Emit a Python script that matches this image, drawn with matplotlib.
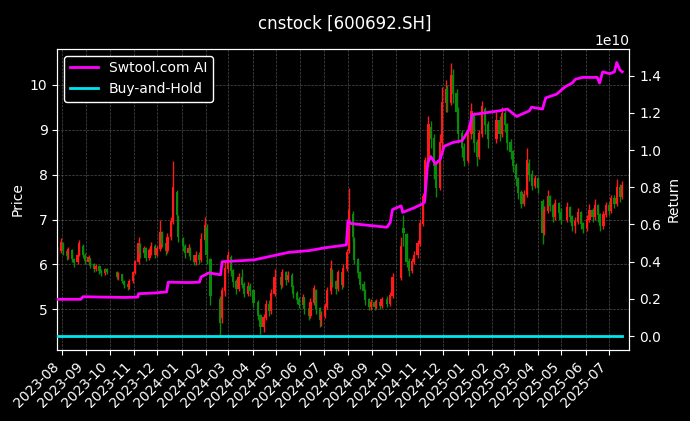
import numpy as np
import pandas as pd
import matplotlib
matplotlib.use("Agg")
import matplotlib.pyplot as plt
import matplotlib.dates as mdates

# ---------------- data ----------------
opens = [
    6.12, 6.30,                                                   # 2023-07
    6.45, 6.28, 6.20, 6.30, 6.10, 6.05, 6.22, 6.40, 6.20,         # 2023-08
    6.05, 6.12, 5.98, 5.90, 5.95, 5.85, 5.80, 5.88,               # 2023-09
    5.82, 5.72, 5.76, 5.62, 5.55, 5.50, 5.62,                     # 2023-10
    5.80, 6.05, 6.42, 6.25, 6.35, 6.15, 6.30, 6.40, 6.22,         # 2023-11
    6.35, 6.68, 6.45, 6.30, 6.60, 6.95, 7.60, 7.05,               # 2023-12
    6.55, 6.40, 6.25, 6.35, 6.18, 6.05, 6.20, 6.10, 6.55,         # 2024-01
    6.80, 6.10, 5.20, 4.80, 5.40, 5.90,                           # 2024-02
    6.15, 5.85, 5.60, 5.45, 5.70, 5.55, 5.35, 5.50,               # 2024-03
    5.40, 5.15, 4.85, 4.60, 4.80, 5.10, 4.95, 5.35,               # 2024-04
    5.70, 5.55, 5.80, 5.65, 5.75, 5.50, 5.35, 5.20,               # 2024-05
    5.10, 5.25, 5.00, 4.85, 5.15, 5.40, 5.00, 4.75,               # 2024-06
    4.85, 5.05, 5.40, 5.85, 5.60, 5.45, 5.80, 5.55, 5.90,         # 2024-07
    6.30, 7.10, 6.55, 6.10, 5.80, 5.55, 5.40, 5.20, 5.05,         # 2024-08
    5.15, 5.05, 5.15, 5.08, 5.20, 5.12, 5.30, 5.70,               # 2024-09
    6.80, 6.65, 6.05, 5.85, 6.05, 6.20, 6.45,                     # 2024-10
    6.90, 7.50, 8.30, 9.05, 8.80, 8.20, 7.70, 8.70,               # 2024-11
    9.60, 9.90, 9.60, 10.20, 9.80, 9.40, 8.90, 8.60, 8.30,        # 2024-12
    8.90, 9.35, 8.70, 8.40, 8.90, 9.45, 9.10,                     # 2025-01
    8.80, 9.20, 8.90, 9.35, 9.10, 8.70, 8.50,                     # 2025-02
    8.20, 7.90, 7.60, 7.35, 7.55, 8.25, 8.00, 7.75,               # 2025-03
    7.90, 7.40, 6.70, 7.20, 7.50, 7.30, 7.05, 7.35,               # 2025-04
    7.15, 7.00, 7.25, 7.05, 6.85, 6.95, 7.15, 6.90,               # 2025-05
    6.80, 7.00, 7.20, 7.05, 7.30, 7.10, 6.85, 7.10,               # 2025-06
    7.30, 7.20, 7.45, 7.35, 7.70, 7.50,                           # 2025-07
]
closes = [
    6.30, 6.48,
    6.30, 6.18, 6.32, 6.12, 6.02, 6.20, 6.45, 6.22, 6.08,
    6.15, 5.98, 5.90, 5.95, 5.85, 5.80, 5.88, 5.82,
    5.72, 5.78, 5.62, 5.55, 5.50, 5.62, 5.80,
    6.05, 6.45, 6.25, 6.35, 6.15, 6.30, 6.40, 6.22, 6.35,
    6.70, 6.45, 6.30, 6.60, 6.95, 7.70, 7.10, 6.60,
    6.40, 6.25, 6.35, 6.18, 6.05, 6.20, 6.10, 6.55, 6.85,
    6.20, 5.30, 4.70, 5.40, 5.90, 6.20,
    5.85, 5.60, 5.45, 5.70, 5.55, 5.35, 5.50, 5.40,
    5.15, 4.85, 4.60, 4.80, 5.10, 4.95, 5.35, 5.70,
    5.55, 5.80, 5.65, 5.75, 5.50, 5.35, 5.20, 5.10,
    5.25, 5.00, 4.85, 5.15, 5.45, 5.00, 4.75, 4.85,
    5.05, 5.40, 5.90, 5.60, 5.45, 5.80, 5.55, 5.90, 6.25,
    7.20, 6.60, 6.10, 5.80, 5.55, 5.40, 5.20, 5.05, 5.15,
    5.05, 5.15, 5.08, 5.20, 5.12, 5.30, 5.70, 6.40,
    6.70, 6.05, 5.85, 6.05, 6.20, 6.45, 6.90,
    7.50, 8.30, 9.10, 8.80, 8.20, 7.70, 8.70, 9.60,
    9.90, 9.60, 10.20, 9.80, 9.40, 8.90, 8.60, 8.30, 8.90,
    9.40, 8.70, 8.40, 8.90, 9.50, 9.10, 8.80,
    9.20, 8.90, 9.35, 9.10, 8.70, 8.50, 8.20,
    7.90, 7.60, 7.35, 7.55, 8.30, 8.00, 7.75, 7.90,
    7.70, 6.70, 7.20, 7.50, 7.30, 7.05, 7.35, 7.15,
    7.00, 7.25, 7.05, 6.85, 6.95, 7.15, 6.90, 6.80,
    7.00, 7.20, 7.05, 7.30, 7.10, 6.85, 7.10, 7.30,
    7.20, 7.45, 7.35, 7.70, 7.50, 7.75,
]
highs = [
    6.38, 6.58,
    6.50, 6.35, 6.38, 6.34, 6.15, 6.25, 6.55, 6.45, 6.25,
    6.20, 6.15, 6.02, 6.00, 5.98, 5.90, 5.92, 5.92,
    5.85, 5.82, 5.78, 5.66, 5.60, 5.68, 5.86,
    6.10, 6.60, 6.48, 6.42, 6.38, 6.36, 6.50, 6.45, 6.42,
    7.00, 6.75, 6.50, 6.70, 7.05, 8.30, 7.65, 7.10,
    6.60, 6.45, 6.45, 6.38, 6.22, 6.30, 6.28, 6.70, 7.05,
    6.90, 6.15, 5.30, 5.50, 6.05, 6.30,
    6.20, 5.90, 5.68, 5.80, 5.90, 5.60, 5.60, 5.58,
    5.45, 5.20, 4.90, 4.90, 5.20, 5.20, 5.45, 5.90,
    5.75, 5.90, 5.85, 5.85, 5.80, 5.55, 5.40, 5.28,
    5.35, 5.28, 5.05, 5.25, 5.55, 5.45, 5.05, 4.95,
    5.15, 5.50, 6.10, 5.90, 5.65, 5.88, 5.85, 6.00, 6.35,
    7.70, 7.20, 6.60, 6.15, 5.85, 5.62, 5.45, 5.25, 5.22,
    5.20, 5.22, 5.20, 5.28, 5.30, 5.38, 5.80, 6.60,
    7.10, 6.70, 6.15, 6.15, 6.30, 6.55, 7.00,
    7.60, 8.40, 9.30, 9.20, 8.90, 8.30, 8.90, 9.95,
    10.10, 10.00, 10.50, 10.35, 9.90, 9.50, 9.00, 8.70, 9.10,
    9.60, 9.40, 8.80, 9.00, 9.65, 9.50, 9.20,
    9.40, 9.30, 9.50, 9.45, 9.15, 8.80, 8.55,
    8.25, 7.95, 7.65, 7.65, 8.60, 8.35, 8.10, 8.00,
    7.95, 7.45, 7.30, 7.65, 7.55, 7.35, 7.45, 7.40,
    7.25, 7.40, 7.30, 7.10, 7.05, 7.25, 7.20, 6.95,
    7.10, 7.35, 7.25, 7.45, 7.35, 7.15, 7.20, 7.40,
    7.40, 7.55, 7.55, 7.90, 7.80, 7.85,
]
lows = [
    6.05, 6.25,
    6.22, 6.10, 6.12, 6.05, 5.95, 6.00, 6.18, 6.15, 6.00,
    5.98, 5.92, 5.82, 5.85, 5.78, 5.75, 5.76, 5.78,
    5.68, 5.65, 5.58, 5.48, 5.44, 5.46, 5.58,
    5.78, 6.00, 6.15, 6.18, 6.08, 6.10, 6.22, 6.15, 6.18,
    6.30, 6.38, 6.22, 6.25, 6.55, 6.90, 6.95, 6.50,
    6.30, 6.15, 6.18, 6.10, 5.98, 5.98, 6.00, 6.05, 6.45,
    6.00, 5.10, 4.40, 4.70, 5.30, 5.80,
    5.75, 5.50, 5.35, 5.40, 5.48, 5.28, 5.30, 5.30,
    5.05, 4.75, 4.45, 4.50, 4.75, 4.85, 4.90, 5.30,
    5.45, 5.50, 5.55, 5.60, 5.42, 5.25, 5.12, 5.02,
    5.02, 4.90, 4.75, 4.80, 5.10, 4.90, 4.60, 4.62,
    4.80, 5.00, 5.35, 5.50, 5.35, 5.40, 5.45, 5.50, 5.85,
    6.25, 6.50, 6.00, 5.70, 5.45, 5.30, 5.10, 4.98, 4.98,
    4.98, 5.00, 5.00, 5.02, 5.05, 5.08, 5.25, 5.65,
    6.40, 5.95, 5.75, 5.80, 6.00, 6.15, 6.40,
    6.85, 7.45, 8.20, 8.60, 7.90, 7.50, 7.65, 8.60,
    9.40, 9.40, 9.55, 9.60, 9.20, 8.70, 8.40, 8.20, 8.25,
    8.80, 8.50, 8.20, 8.35, 8.85, 8.90, 8.60,
    8.70, 8.75, 8.85, 8.95, 8.55, 8.35, 8.05,
    7.75, 7.45, 7.25, 7.30, 7.50, 7.85, 7.65, 7.70,
    7.60, 6.45, 6.65, 7.15, 7.20, 6.95, 7.00, 7.05,
    6.90, 6.95, 6.95, 6.75, 6.70, 6.90, 6.80, 6.70,
    6.75, 6.95, 6.95, 7.00, 6.95, 6.75, 6.80, 7.05,
    7.10, 7.15, 7.25, 7.30, 7.40, 7.45,
]

# Strategy cumulative return (units of 1e10)
ai_dates = [
    "2023-07-26", "2023-08-25", "2023-08-28", "2023-09-20", "2023-10-20",
    "2023-11-06", "2023-11-07", "2023-11-28", "2023-12-13", "2023-12-15",
    "2024-01-10", "2024-01-24", "2024-01-26", "2024-02-05", "2024-02-20",
    "2024-02-22", "2024-03-15", "2024-04-03", "2024-04-25", "2024-05-17",
    "2024-06-13", "2024-07-03", "2024-07-30", "2024-08-01", "2024-08-05",
    "2024-08-28", "2024-09-20", "2024-09-24", "2024-09-27", "2024-10-08",
    "2024-10-10", "2024-10-25", "2024-11-04", "2024-11-07", "2024-11-11",
    "2024-11-15", "2024-11-21", "2024-11-27", "2024-12-02", "2024-12-13",
    "2024-12-25", "2025-01-03", "2025-01-07", "2025-01-24", "2025-02-10",
    "2025-02-21", "2025-03-05", "2025-03-10", "2025-03-21", "2025-03-24",
    "2025-04-07", "2025-04-11", "2025-04-25", "2025-05-06", "2025-05-15",
    "2025-05-19", "2025-05-28", "2025-06-16", "2025-06-19", "2025-06-23",
    "2025-07-02", "2025-07-08", "2025-07-11", "2025-07-15", "2025-07-18",
]
ai_values = [
    0.198, 0.198, 0.212, 0.210, 0.208,
    0.210, 0.228, 0.232, 0.238, 0.290,
    0.288, 0.290, 0.318, 0.340, 0.330,
    0.400, 0.405, 0.410, 0.430, 0.450,
    0.460, 0.475, 0.490, 0.620, 0.605,
    0.595, 0.585, 0.610, 0.680, 0.700,
    0.665, 0.690, 0.710, 0.720, 0.930,
    0.965, 0.925, 0.950, 1.020, 1.040,
    1.050, 1.110, 1.190, 1.200, 1.210,
    1.220, 1.180, 1.190, 1.210, 1.230,
    1.220, 1.280, 1.300, 1.340, 1.360,
    1.380, 1.390, 1.390, 1.360, 1.420,
    1.410, 1.420, 1.470, 1.430, 1.420,
]

holidays = [
    "2023-09-29", "2023-10-02", "2023-10-03", "2023-10-04", "2023-10-05", "2023-10-06",
    "2024-01-01", "2024-02-09", "2024-02-12", "2024-02-13", "2024-02-14", "2024-02-15",
    "2024-02-16", "2024-04-04", "2024-04-05", "2024-05-01", "2024-05-02", "2024-05-03",
    "2024-06-10", "2024-09-16", "2024-09-17", "2024-10-01", "2024-10-02", "2024-10-03",
    "2024-10-04", "2024-10-07", "2025-01-01", "2025-01-28", "2025-01-29", "2025-01-30",
    "2025-01-31", "2025-02-03", "2025-02-04", "2025-04-04", "2025-05-01", "2025-05-02",
    "2025-05-05", "2025-06-02",
]

# ---------------- build ----------------
tdays = pd.bdate_range("2023-07-26", "2025-07-18")
tdays = tdays[~tdays.isin(pd.to_datetime(holidays))]
idx = np.round(np.linspace(0, len(tdays) - 1, len(closes))).astype(int)
dates = tdays[idx]

o = np.array(opens); c = np.array(closes); h = np.array(highs); l = np.array(lows)
up = c >= o
col = np.where(up, "#ff1a1a", "#0a8a0a")

bh = c / c[0] - 1.0  # buy-and-hold return
ai = np.array(ai_values) * 1e10
ai_x = pd.to_datetime(ai_dates)

fig = plt.figure(figsize=(6.9, 4.21), dpi=100, facecolor="black")
ax = fig.add_axes([0.083, 0.169, 0.829, 0.715])
ax.set_facecolor("black")

xd = mdates.date2num(dates)
ax.vlines(xd, l, h, colors=col, linewidth=1.0, zorder=2)
ax.bar(xd, np.abs(c - o) + 0.02, bottom=np.minimum(o, c), width=2.8,
       color=col, linewidth=0, zorder=3)

ax.set_xlim(mdates.date2num(pd.Timestamp("2023-07-26")),
            mdates.date2num(pd.Timestamp("2025-07-27")))
ax.xaxis.set_major_locator(mdates.MonthLocator())
ax.xaxis.set_major_formatter(mdates.DateFormatter("%Y-%m"))
plt.setp(ax.get_xticklabels(), rotation=45, ha="right")
ax.grid(True, color="#808080", linestyle="--", linewidth=0.5, alpha=0.6)
ax.set_ylabel("Price", color="white")

ax2 = ax.twinx()
ax2.plot(ai_x, ai, color="#ff00ff", linewidth=2, label="Swtool.com AI", zorder=4)
ax2.plot(dates, bh, color="#00e5ee", linewidth=2, label="Buy-and-Hold", zorder=4)
ax2.set_ylabel("Return", color="white")
ax2.set_xlim(ax.get_xlim())

for a in (ax, ax2):
    a.tick_params(colors="white", which="both")
    for s in a.spines.values():
        s.set_color("white")
ax2.yaxis.get_offset_text().set_color("white")

leg = ax2.legend(loc="upper left", facecolor="black", edgecolor="white", framealpha=1)
for t in leg.get_texts():
    t.set_color("white")

fig.suptitle("cnstock [600692.SH]", color="white", fontsize=12, y=0.965)

fig.savefig("out.png", dpi=100, facecolor="black")
